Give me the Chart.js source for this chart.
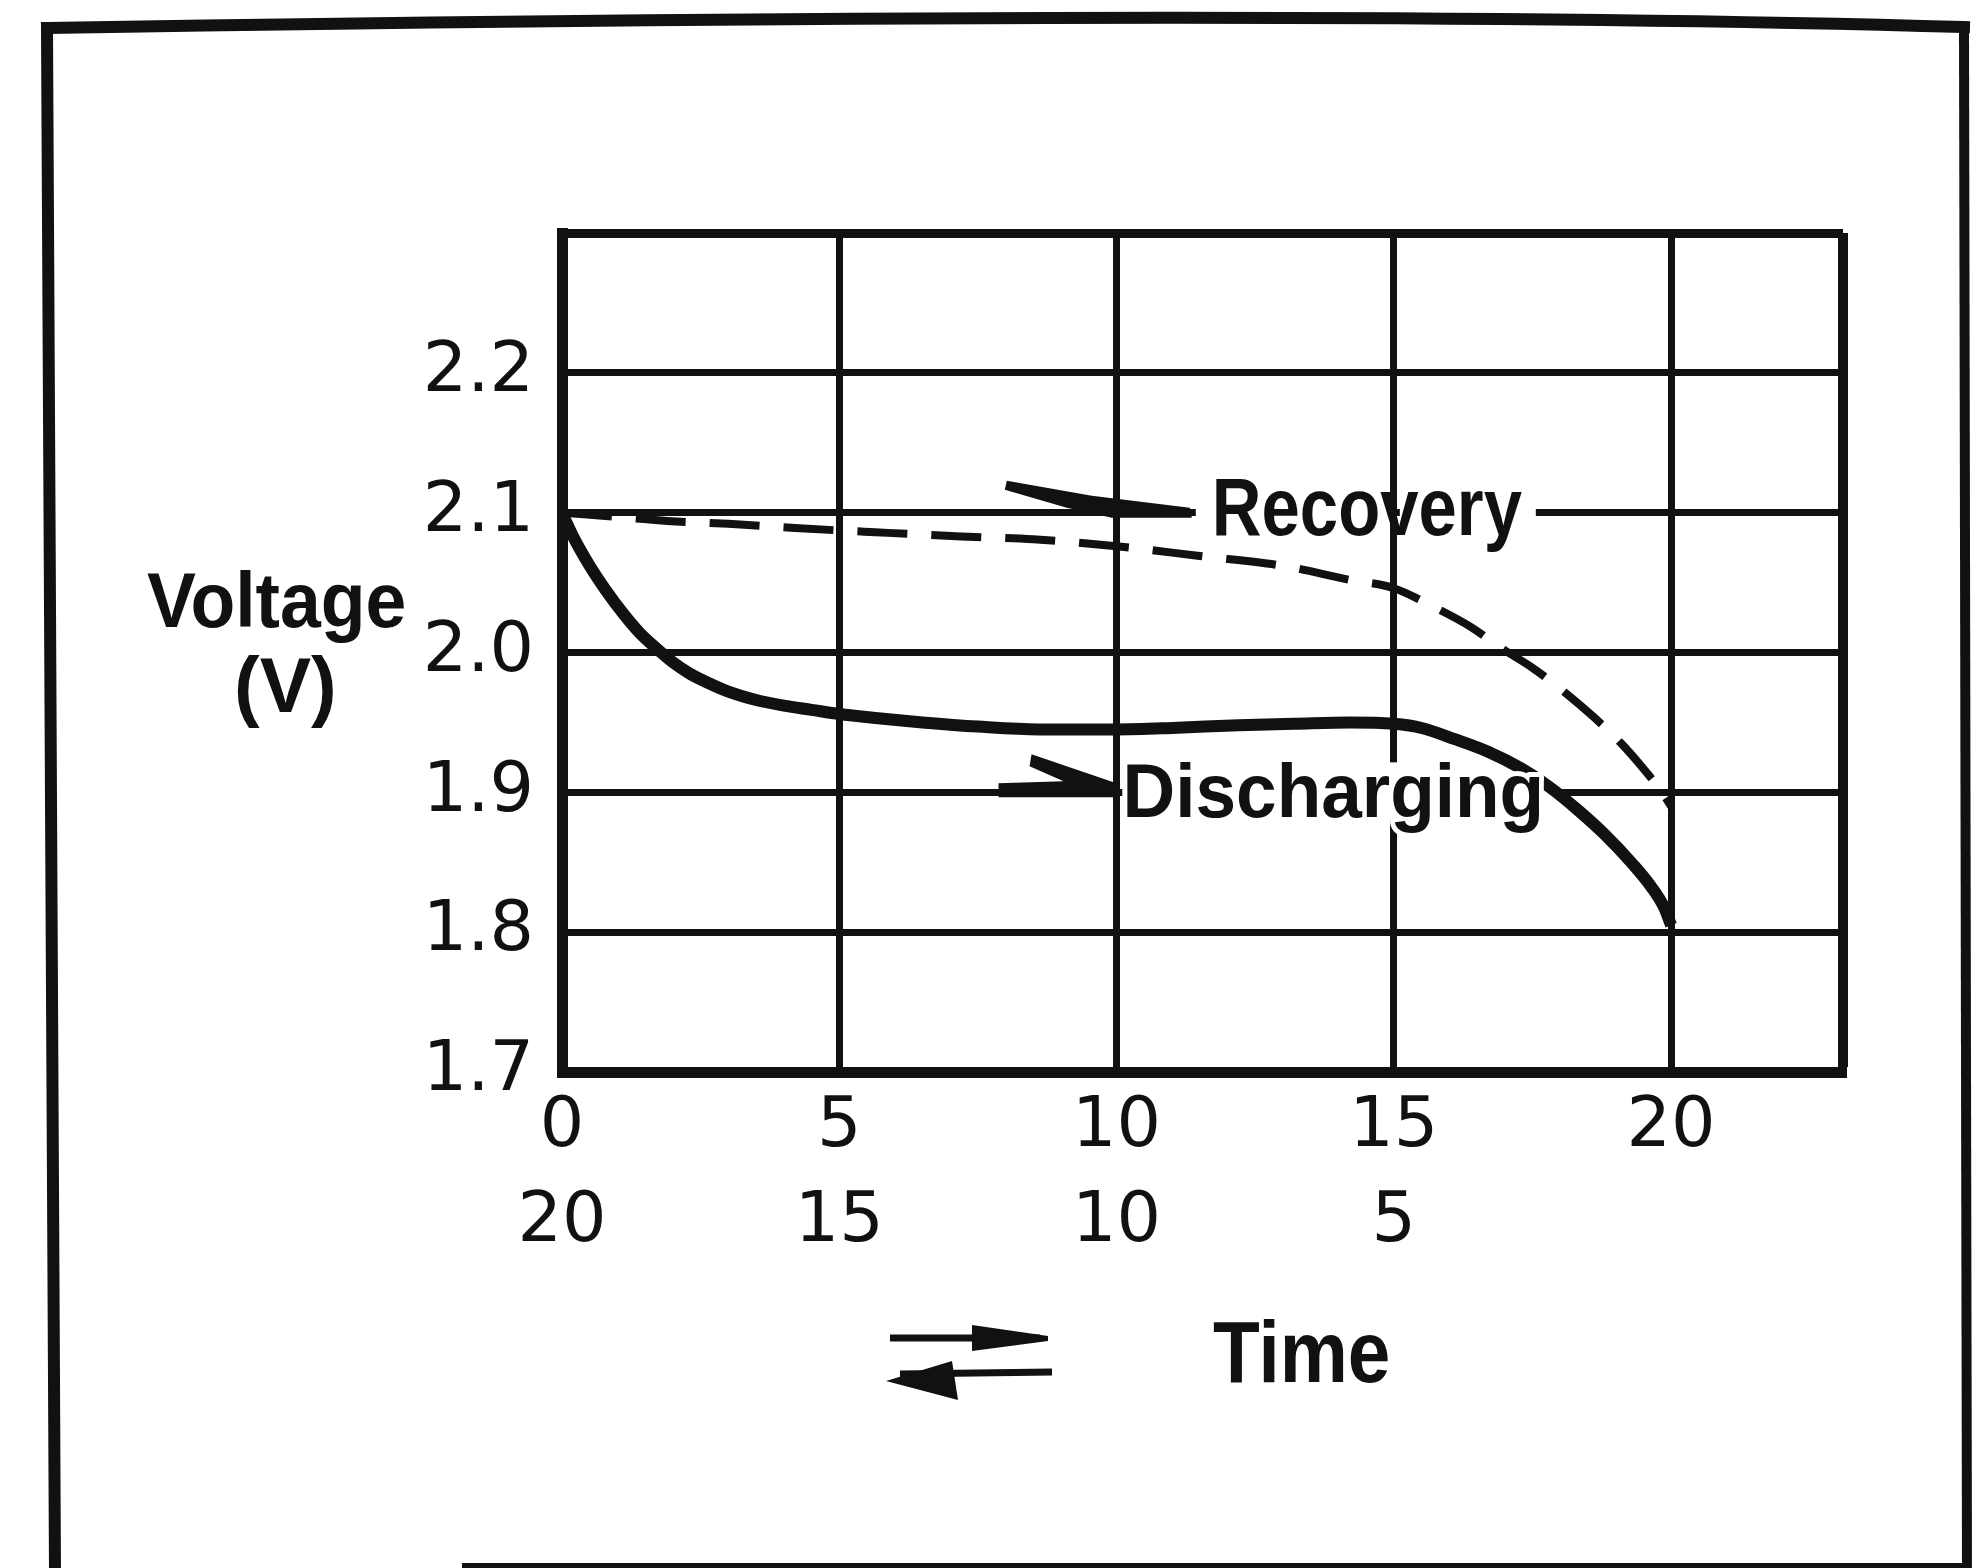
<!DOCTYPE html>
<html>
<head>
<meta charset="utf-8">
<title>Cell voltage: discharging and recovery</title>
<script src="https://cdn.jsdelivr.net/npm/chart.js@4.4.1/dist/chart.umd.min.js"></script>
<style>
  html, body { margin: 0; padding: 0; background: #fff; }
  #wrap { width: 1977px; height: 1568px; position: relative; overflow: hidden; }
  canvas { display: block; }
</style>
</head>
<body>
<div id="wrap"><canvas id="chart" width="1977" height="1568"></canvas></div>
<script>
// Discharging curve (solid): time vs cell voltage
const dischargeTime = [0, 0.2, 0.5, 0.8, 1.1, 1.4, 1.7, 2.0, 2.3, 2.65, 3.0, 3.5, 4.0, 4.5, 5.0,
  5.7, 6.5, 7.5, 8.6, 10.0, 11.0, 12.2, 13.2, 14.2, 15.0, 15.5, 16.1, 16.7, 17.3, 17.8,
  18.3, 18.8, 19.3, 19.65, 19.87, 20.0];
const dischargeVolt = [2.100, 2.083, 2.062, 2.044, 2.028, 2.014, 2.003, 1.993, 1.985, 1.978, 1.972,
  1.966, 1.962, 1.959, 1.956, 1.953, 1.950, 1.947, 1.945, 1.945, 1.946, 1.948, 1.949, 1.950,
  1.949, 1.946, 1.938, 1.929, 1.917, 1.904, 1.888, 1.870, 1.849, 1.832, 1.818, 1.805];

// Recovery curve (dashed), plotted on the same time axis
const recoveryTime = [0, 1.0, 1.9, 3.0, 4.2, 5.65, 7.2, 8.5, 10.0, 11.5, 13.0, 14.2, 15.0, 15.7, 16.4,
  16.9, 17.5, 18.1, 18.6, 19.1, 19.5, 19.8, 20.0];
const recoveryVolt = [2.100, 2.097, 2.094, 2.092, 2.089, 2.086, 2.083, 2.081, 2.076, 2.069, 2.062, 2.052,
  2.046, 2.033, 2.018, 2.004, 1.989, 1.971, 1.954, 1.935, 1.917, 1.902, 1.890];

// Axis ticks
const timeTicks = [0, 5, 10, 15, 20];
const timeLabelsForward = ['0', '5', '10', '15', '20'];
const timeLabelsReverse = ['20', '15', '10', '5', ''];
const voltTicks = [1.7, 1.8, 1.9, 2.0, 2.1, 2.2];
const voltLabels = ['1.7', '1.8', '1.9', '2.0', '2.1', '2.2'];
const TIME_MAX = 23.1;
const VOLT_MIN = 1.7;
const VOLT_MAX = 2.3;

const INK = '#111111';
const SANS = '"Liberation Sans", Arial, sans-serif';
const TICK_FONT = '"DejaVu Sans", sans-serif';

function drawLabel(ctx, text, x, yBase, size, sx, halo) {
  ctx.save();
  ctx.font = 'bold ' + size + 'px ' + SANS;
  ctx.translate(x, yBase);
  ctx.scale(sx, 1);
  ctx.textAlign = 'left';
  ctx.textBaseline = 'alphabetic';
  if (halo) {
    ctx.lineJoin = 'round';
    ctx.lineWidth = halo;
    ctx.strokeStyle = '#fff';
    ctx.strokeText(text, 0, 0);
  }
  ctx.fillStyle = INK;
  ctx.fillText(text, 0, 0);
  ctx.restore();
}

function poly(ctx, pts) {
  ctx.beginPath();
  ctx.moveTo(pts[0][0], pts[0][1]);
  for (let i = 1; i < pts.length; i++) ctx.lineTo(pts[i][0], pts[i][1]);
  ctx.closePath();
  ctx.fill();
}

const decorations = {
  id: 'decorations',
  beforeDraw(chart) {
    const ctx = chart.ctx;
    ctx.save();
    ctx.fillStyle = '#fff';
    ctx.fillRect(0, 0, chart.width, chart.height);
    ctx.restore();
  },
  beforeDatasetsDraw(chart) {
    // open the grid behind the curve labels
    const { ctx, scales: { x, y } } = chart;
    const x10 = x.getPixelForValue(10), x15 = x.getPixelForValue(15);
    const y21 = y.getPixelForValue(2.1), y19 = y.getPixelForValue(1.9);
    ctx.save();
    ctx.fillStyle = '#fff';
    const recL = x15 - 198, recR = x15 + 142;
    ctx.fillRect(recL, y21 - 8, (x15 - 6) - recL, 16);
    ctx.fillRect(x15 + 6, y21 - 8, recR - (x15 + 6), 16);
    const disL = x10 + 6, disR = x15 + 168;
    ctx.fillRect(disL, y19 - 8, disR - disL, 16);
    ctx.fillRect(x15 - 7, y19 - 30, 14, 58);
    ctx.restore();
  },
  afterDraw(chart) {
    const { ctx, scales: { x, y } } = chart;
    const x10 = x.getPixelForValue(10), x15 = x.getPixelForValue(15);
    const y21 = y.getPixelForValue(2.1), y19 = y.getPixelForValue(1.9);
    ctx.save();
    ctx.fillStyle = INK;
    ctx.strokeStyle = INK;

    // "Recovery" label with its harpoon arrow
    const recX = x15 - 182;
    drawLabel(ctx, 'Recovery', recX, y21 + 22, 82, 0.84, 0);
    let tx = recX - 20, ty = y21;
    poly(ctx, [[tx - 185, ty - 32], [tx - 100, ty - 17], [tx - 2, ty - 5], [tx, ty + 5],
               [tx - 80, ty + 5], [tx - 125, ty - 5], [tx - 187, ty - 23]]);

    // "Discharging" label with its harpoon arrow
    drawLabel(ctx, 'Discharging', x10 + 6, y19 + 25, 76, 0.96, 10);
    tx = x10 - 3; ty = y19;
    poly(ctx, [[tx - 82, ty - 38], [tx, ty - 10], [tx, ty + 5], [tx - 115, ty + 5],
               [tx - 115, ty - 9], [tx - 50, ty - 11], [tx - 84, ty - 26]]);

    // vertical axis title
    drawLabel(ctx, 'Voltage', 147, 627, 78, 0.94, 0);
    drawLabel(ctx, '(V)', 234, 712, 77, 1.0, 0);

    // horizontal axis title with the two direction arrows
    drawLabel(ctx, 'Time', 1213, 1382, 88, 0.87, 0);
    ctx.lineWidth = 7;
    ctx.beginPath(); ctx.moveTo(890, 1338); ctx.lineTo(1040, 1338); ctx.stroke();
    poly(ctx, [[972, 1325], [1048, 1336], [1048, 1341], [972, 1351]]);
    ctx.beginPath(); ctx.moveTo(900, 1374); ctx.lineTo(1052, 1372); ctx.stroke();
    poly(ctx, [[886, 1381], [952, 1361], [958, 1400]]);

    // outer frame
    ctx.lineCap = 'square';
    ctx.lineWidth = 12;
    ctx.beginPath(); ctx.moveTo(47, 28); ctx.quadraticCurveTo(1290, 8, 1964, 27); ctx.stroke();
    ctx.beginPath(); ctx.moveTo(47, 28); ctx.lineTo(55, 1570); ctx.stroke();
    ctx.lineWidth = 10;
    ctx.beginPath(); ctx.moveTo(1964, 27); ctx.lineTo(1967, 1570); ctx.stroke();
    ctx.lineWidth = 8;
    ctx.beginPath(); ctx.moveTo(466, 1567); ctx.lineTo(1966, 1567); ctx.stroke();
    ctx.restore();
  }
};

const toPoints = (xs, ys) => xs.map((t, i) => ({ x: t, y: ys[i] }));

new Chart(document.getElementById('chart'), {
  type: 'line',
  data: {
    datasets: [
      {
        label: 'Discharging',
        data: toPoints(dischargeTime, dischargeVolt),
        borderColor: INK,
        borderWidth: 12,
        pointRadius: 0,
        cubicInterpolationMode: 'monotone',
        fill: false
      },
      {
        label: 'Recovery',
        data: toPoints(recoveryTime, recoveryVolt),
        borderColor: INK,
        borderWidth: 8,
        borderDash: [50, 24],
        pointRadius: 0,
        cubicInterpolationMode: 'monotone',
        fill: false
      }
    ]
  },
  options: {
    responsive: false,
    animation: false,
    devicePixelRatio: 1,
    layout: { padding: { left: 0, top: 233, right: 134, bottom: 0 } },
    plugins: {
      legend: { display: false },
      tooltip: { enabled: false },
      title: { display: false }
    },
    scales: {
      x: {
        type: 'linear',
        min: 0,
        max: TIME_MAX,
        afterBuildTicks: s => { s.ticks = timeTicks.concat([TIME_MAX]).map(v => ({ value: v })); },
        afterFit: s => { s.height = 496; },
        grid: {
          color: INK,
          lineWidth: c => (c.tick && c.tick.value === TIME_MAX ? 10 : 7),
          drawTicks: false
        },
        border: { display: true, color: INK, width: 11 },
        ticks: {
          autoSkip: false,
          maxRotation: 0,
          padding: 8,
          color: INK,
          font: { family: TICK_FONT, size: 70, lineHeight: 1.36 },
          callback: v => {
            const i = timeTicks.indexOf(v);
            return i < 0 ? '' : [timeLabelsForward[i], timeLabelsReverse[i]];
          }
        }
      },
      y: {
        type: 'linear',
        min: VOLT_MIN,
        max: VOLT_MAX,
        afterBuildTicks: s => { s.ticks = voltTicks.concat([VOLT_MAX]).map(v => ({ value: v })); },
        afterFit: s => { s.width = 562; },
        grid: {
          color: INK,
          lineWidth: c => (c.tick && c.tick.value === VOLT_MAX ? 9 : 7),
          drawTicks: false
        },
        border: { display: true, color: INK, width: 11 },
        ticks: {
          autoSkip: false,
          padding: 28,
          color: INK,
          font: { family: TICK_FONT, size: 70 },
          callback: v => {
            const i = voltTicks.indexOf(v);
            return i < 0 ? '' : voltLabels[i];
          }
        }
      }
    }
  },
  plugins: [decorations]
});
</script>
</body>
</html>
